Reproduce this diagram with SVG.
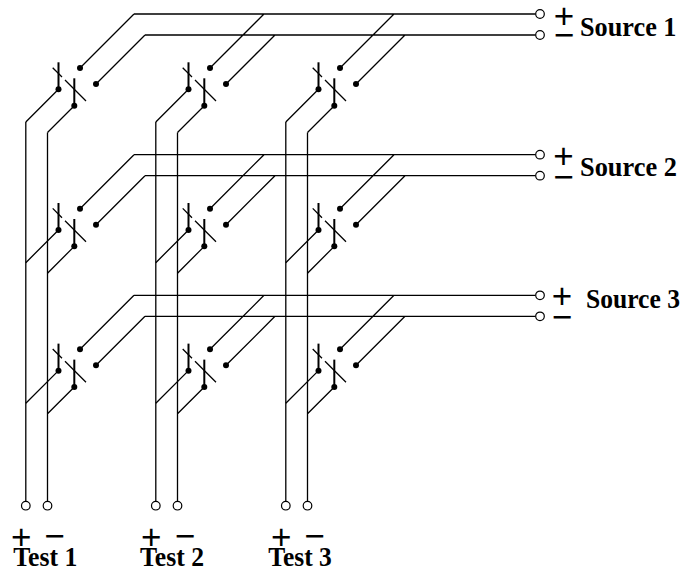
<svg xmlns="http://www.w3.org/2000/svg" xmlns:xlink="http://www.w3.org/1999/xlink" width="683" height="571" viewBox="0 0 683 571">
<style>
.wire{fill:none;stroke:#000;stroke-width:1.3;stroke-linecap:butt}
.blade{stroke:#000;stroke-width:2}
.link{fill:none;stroke:#000;stroke-width:1.3}
.dot{fill:#000;stroke:none}
.term{fill:#fff;stroke:#000;stroke-width:1.2}
.sign{font-family:"Liberation Sans",Arial,sans-serif;font-size:35px;text-anchor:middle;fill:#000}
.label{font-family:"Liberation Serif","Times New Roman",serif;font-size:28px;font-weight:bold;fill:#000}
</style>
<defs>
<g id="sw">
<line class="blade" x1="58.5" y1="62.3" x2="58.5" y2="89.3"/>
<line class="blade" x1="74.3" y1="78.3" x2="74.3" y2="105.7"/>
<path class="link" d="M52.7,67.7L62,77M65,80L86,101"/>
<circle class="dot" cx="58.5" cy="89.3" r="3"/>
<circle class="dot" cx="74.3" cy="105.7" r="3"/>
<circle class="dot" cx="80" cy="68" r="3"/>
<circle class="dot" cx="96" cy="84" r="3"/>
</g>
<path id="rowwires" d="M535.7,14H134M535.7,35H145M134,14L80,68M264,14L210,68M394,14L340,68M145,35L96,84M275,35L226,84M405,35L356,84M58.5,89.3L25.8,122M188.5,89.3L155.8,122M318.5,89.3L285.8,122M74.3,105.7L47.5,132.5M204.3,105.7L177.5,132.5M334.3,105.7L307.5,132.5"/>
</defs>
<g id="connectors" class="wire">
<use xlink:href="#rowwires" href="#rowwires"/>
<use xlink:href="#rowwires" href="#rowwires" transform="translate(0,140.67)"/>
<use xlink:href="#rowwires" href="#rowwires" transform="translate(0,281.33)"/>
<path d="M25.8,122V501.4M47.5,132.5V501.4M155.8,122V501.4M177.5,132.5V501.4M285.8,122V501.4M307.5,132.5V501.4"/>
</g>
<g id="switch-r1-c1"><use xlink:href="#sw" href="#sw"/></g>
<g id="switch-r1-c2" transform="translate(130,0)"><use xlink:href="#sw" href="#sw"/></g>
<g id="switch-r1-c3" transform="translate(260,0)"><use xlink:href="#sw" href="#sw"/></g>
<g id="switch-r2-c1" transform="translate(0,140.67)"><use xlink:href="#sw" href="#sw"/></g>
<g id="switch-r2-c2" transform="translate(130,140.67)"><use xlink:href="#sw" href="#sw"/></g>
<g id="switch-r2-c3" transform="translate(260,140.67)"><use xlink:href="#sw" href="#sw"/></g>
<g id="switch-r3-c1" transform="translate(0,281.33)"><use xlink:href="#sw" href="#sw"/></g>
<g id="switch-r3-c2" transform="translate(130,281.33)"><use xlink:href="#sw" href="#sw"/></g>
<g id="switch-r3-c3" transform="translate(260,281.33)"><use xlink:href="#sw" href="#sw"/></g>
<g id="source-1">
<circle class="term" cx="540" cy="14" r="4.3"/>
<circle class="term" cx="540" cy="35" r="4.3"/>
<text class="sign" x="564" y="28">+</text>
<text class="sign" x="564" y="46.8">−</text>
<text class="label" x="580" y="35.5" textLength="96.5" lengthAdjust="spacingAndGlyphs">Source 1</text>
</g>
<g id="source-2">
<circle class="term" cx="540" cy="154.67" r="4.3"/>
<circle class="term" cx="540" cy="175.67" r="4.3"/>
<text class="sign" x="563.5" y="168">+</text>
<text class="sign" x="563.5" y="188.8">−</text>
<text class="label" x="580" y="175.5" textLength="97" lengthAdjust="spacingAndGlyphs">Source 2</text>
</g>
<g id="source-3">
<circle class="term" cx="540" cy="295.33" r="4.3"/>
<circle class="term" cx="540" cy="316.33" r="4.3"/>
<text class="sign" x="562" y="308.3">+</text>
<text class="sign" x="562" y="329">−</text>
<text class="label" x="586" y="308" textLength="94" lengthAdjust="spacingAndGlyphs">Source 3</text>
</g>
<g id="test-1">
<circle class="term" cx="25.8" cy="505.7" r="4.3"/>
<circle class="term" cx="47.5" cy="505.7" r="4.3"/>
<text class="sign" x="21.3" y="548.6">+</text>
<text class="sign" x="54.5" y="548">−</text>
<text class="label" x="13.3" y="565.5" textLength="64" lengthAdjust="spacingAndGlyphs">Test 1</text>
</g>
<g id="test-2">
<circle class="term" cx="155.8" cy="505.7" r="4.3"/>
<circle class="term" cx="177.5" cy="505.7" r="4.3"/>
<text class="sign" x="151.3" y="548.6">+</text>
<text class="sign" x="185" y="548">−</text>
<text class="label" x="140" y="565.5" textLength="64" lengthAdjust="spacingAndGlyphs">Test 2</text>
</g>
<g id="test-3">
<circle class="term" cx="285.8" cy="505.7" r="4.3"/>
<circle class="term" cx="307.5" cy="505.7" r="4.3"/>
<text class="sign" x="281.3" y="548.6">+</text>
<text class="sign" x="314.5" y="548">−</text>
<text class="label" x="268.3" y="565.5" textLength="63.4" lengthAdjust="spacingAndGlyphs">Test 3</text>
</g>
</svg>
